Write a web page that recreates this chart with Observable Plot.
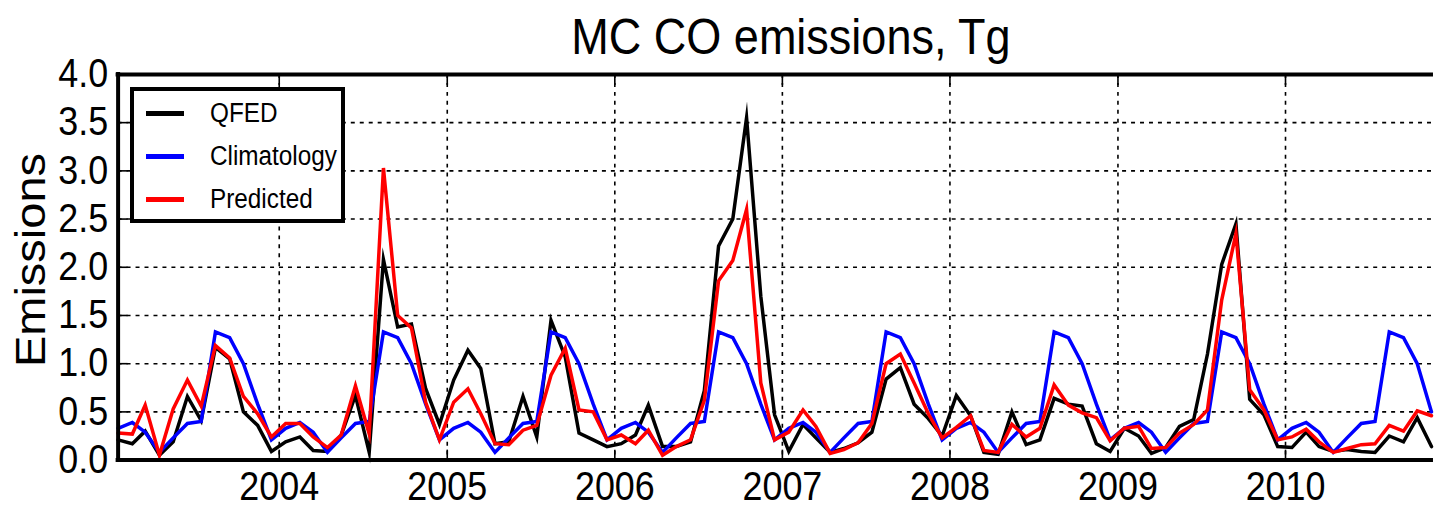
<!DOCTYPE html>
<html><head><meta charset="utf-8">
<script src="https://cdn.jsdelivr.net/npm/d3@7"></script>
<script src="https://cdn.jsdelivr.net/npm/@observablehq/plot@0.6"></script>
<style>
html,body{margin:0;padding:0;background:#fff;overflow:hidden;}
#wrap{position:relative;width:1435px;height:511px;overflow:hidden;font-family:"Liberation Sans",Arial,sans-serif;color:#000;background:#fff;}
#title{position:absolute;z-index:3;left:391px;top:12px;width:800px;text-align:center;font-size:50px;line-height:50px;white-space:nowrap;transform:scaleX(0.9);transform-origin:center;}
#ylab{position:absolute;z-index:3;left:30px;top:260px;font-size:47px;line-height:47px;white-space:nowrap;transform:translate(-50%,-50%) scale(0.9,1) rotate(-90deg);}
#chart{position:absolute;z-index:1;left:0;top:60px;}
#legend{position:absolute;z-index:3;left:130px;top:87px;width:215px;height:136px;box-sizing:border-box;border:4px solid #000;background:#fff;}
.sw{position:absolute;left:12px;width:38px;height:5px;}
.lt{position:absolute;left:76px;font-size:27px;line-height:28px;white-space:nowrap;transform:scaleX(0.9);transform-origin:left center;}
</style></head>
<body>
<div id="wrap">
  <div id="chart"></div>
  <div id="title">MC CO emissions, Tg</div>
  <div id="ylab">Emissions</div>
  <div id="legend"></div>
</div>
<script>
// ---- data ----
const startYear = 2003;
const seriesNames = ["QFED", "Climatology", "Predicted"];
const seriesColors = ["#000000", "#0000ff", "#ff0000"];
const yearTicks = [2004, 2005, 2006, 2007, 2008, 2009, 2010];
const yTicks = [0, 0.5, 1.0, 1.5, 2.0, 2.5, 3.0, 3.5, 4.0];

const qfed = [
  0.21,0.17,0.30,0.05,0.19,0.66,0.41,1.17,1.05,0.50,0.36,0.09,
  0.19,0.24,0.10,0.09,0.26,0.67,0.08,2.08,1.38,1.41,0.74,0.37,
  0.83,1.14,0.95,0.17,0.19,0.66,0.24,1.45,1.07,0.28,0.21,0.14,
  0.17,0.26,0.57,0.14,0.14,0.19,0.72,2.22,2.50,3.55,1.70,0.47,
  0.09,0.37,0.23,0.08,0.12,0.18,0.29,0.84,0.96,0.58,0.43,0.25,
  0.67,0.46,0.08,0.06,0.50,0.16,0.21,0.64,0.58,0.56,0.17,0.09,
  0.33,0.25,0.07,0.13,0.35,0.42,1.10,2.03,2.45,0.63,0.47,0.14,
  0.13,0.29,0.14,0.09,0.11,0.09,0.08,0.25,0.19,0.44,0.14
];
const climatology = [
  0.33,0.39,0.29,0.08,0.23,0.38,0.40,1.33,1.27,1.00,0.58,0.21,
  0.33,0.39,0.29,0.08,0.23,0.38,0.40,1.33,1.27,1.00,0.58,0.21,
  0.33,0.39,0.29,0.08,0.23,0.38,0.40,1.33,1.27,1.00,0.58,0.21,
  0.33,0.39,0.29,0.08,0.23,0.38,0.40,1.33,1.27,1.00,0.58,0.21,
  0.33,0.39,0.29,0.08,0.23,0.38,0.40,1.33,1.27,1.00,0.58,0.21,
  0.33,0.39,0.29,0.08,0.23,0.38,0.40,1.33,1.27,1.00,0.58,0.21,
  0.33,0.39,0.29,0.08,0.23,0.38,0.40,1.33,1.27,1.00,0.58,0.21,
  0.33,0.39,0.29,0.08,0.23,0.38,0.40,1.33,1.27,1.00,0.50
];
const predicted = [
  0.28,0.27,0.57,0.05,0.53,0.83,0.56,1.19,1.06,0.66,0.48,0.24,
  0.38,0.38,0.24,0.13,0.26,0.77,0.27,3.03,1.50,1.37,0.60,0.21,
  0.60,0.74,0.48,0.17,0.16,0.31,0.36,0.88,1.16,0.52,0.50,0.21,
  0.26,0.17,0.31,0.05,0.14,0.21,0.62,1.86,2.07,2.60,0.80,0.21,
  0.29,0.52,0.35,0.07,0.11,0.18,0.38,1.00,1.10,0.80,0.48,0.23,
  0.34,0.46,0.10,0.08,0.37,0.24,0.33,0.78,0.57,0.49,0.44,0.20,
  0.33,0.35,0.12,0.13,0.28,0.37,0.52,1.66,2.35,0.73,0.52,0.21,
  0.24,0.32,0.19,0.08,0.12,0.16,0.17,0.36,0.30,0.51,0.46
];

// ---- build table ----
const monthDate = i => d3.utcDay.offset(d3.utcMonth.offset(new Date(Date.UTC(startYear, 0, 1)), i), 14);
const table = [];
[qfed, climatology, predicted].forEach((arr, s) => {
  arr.forEach((v, i) => table.push({series: seriesNames[s], date: monthDate(i), value: v}));
});
const dates = qfed.map((_, i) => monthDate(i));
const yearDates = yearTicks.map(y => new Date(Date.UTC(y, 0, 1)));

const grid = {stroke: "black", strokeOpacity: 1, strokeDasharray: "4,5", strokeWidth: 1.6};
const inwardTick = {tickSize: -10, tickFormat: () => "", label: null, strokeWidth: 1.6};

const chart = Plot.plot({
  width: 1440, height: 451,
  marginLeft: 118, marginRight: 4, marginTop: 14, marginBottom: 50,
  x: {type: "utc", domain: [dates[0], dates[dates.length - 1]]},
  y: {domain: [0, 4]},
  color: {domain: seriesNames, range: seriesColors},
  style: {fontFamily: "'Liberation Sans', Arial, sans-serif", fontSize: "40px", color: "black", background: "white", overflow: "visible"},
  marks: [
    Plot.gridY(yTicks.filter(v => v > 0 && v < 4), grid),
    Plot.gridX(yearDates, grid),
    Plot.axisY(yTicks.filter(v => v > 0 && v < 4), {anchor: "left", ...inwardTick}),
    Plot.axisX(yearDates, {anchor: "bottom", ...inwardTick}),
    Plot.axisX(yearDates, {anchor: "top", ...inwardTick}),
    Plot.axisY(yTicks, {tickSize: 0, tickPadding: 10, tickFormat: d3.format(".1f"), label: null}),
    Plot.axisX(yearDates, {tickSize: 0, tickPadding: 12, tickFormat: d3.utcFormat("%Y"), label: null}),
    ...seriesNames.map(name => Plot.lineY(table.filter(d => d.series === name), {
      x: "date", y: "value", stroke: "series", strokeWidth: 3.5,
      strokeLinejoin: "miter", strokeMiterlimit: 10
    })),
    Plot.ruleY([0, 4], {stroke: "black", strokeWidth: 4, strokeLinecap: "square"}),
    Plot.ruleX([dates[0]], {stroke: "black", strokeWidth: 4, strokeLinecap: "square"})
  ]
});
// horizontal squeeze of tick labels to match the reference's glyph proportions
chart.querySelectorAll("text").forEach(t => {
  const tr = t.getAttribute("transform");
  if (tr) t.setAttribute("transform", tr + " scale(0.9,1)");
  else {
    const x = +(t.getAttribute("x") || 0);
    t.setAttribute("transform", `translate(${x},0) scale(0.9,1) translate(${-x},0)`);
  }
});
document.getElementById("chart").appendChild(chart);

// legend
const legend = document.getElementById("legend");
const rowTops = [22, 65, 108];
seriesNames.forEach((name, i) => {
  const sw = document.createElement("div");
  sw.className = "sw";
  sw.style.top = (rowTops[i] - 2.5) + "px";
  sw.style.background = seriesColors[i];
  legend.appendChild(sw);
  const lt = document.createElement("div");
  lt.className = "lt";
  lt.style.top = (rowTops[i] - 14) + "px";
  lt.textContent = name;
  legend.appendChild(lt);
});
</script>
</body></html>
